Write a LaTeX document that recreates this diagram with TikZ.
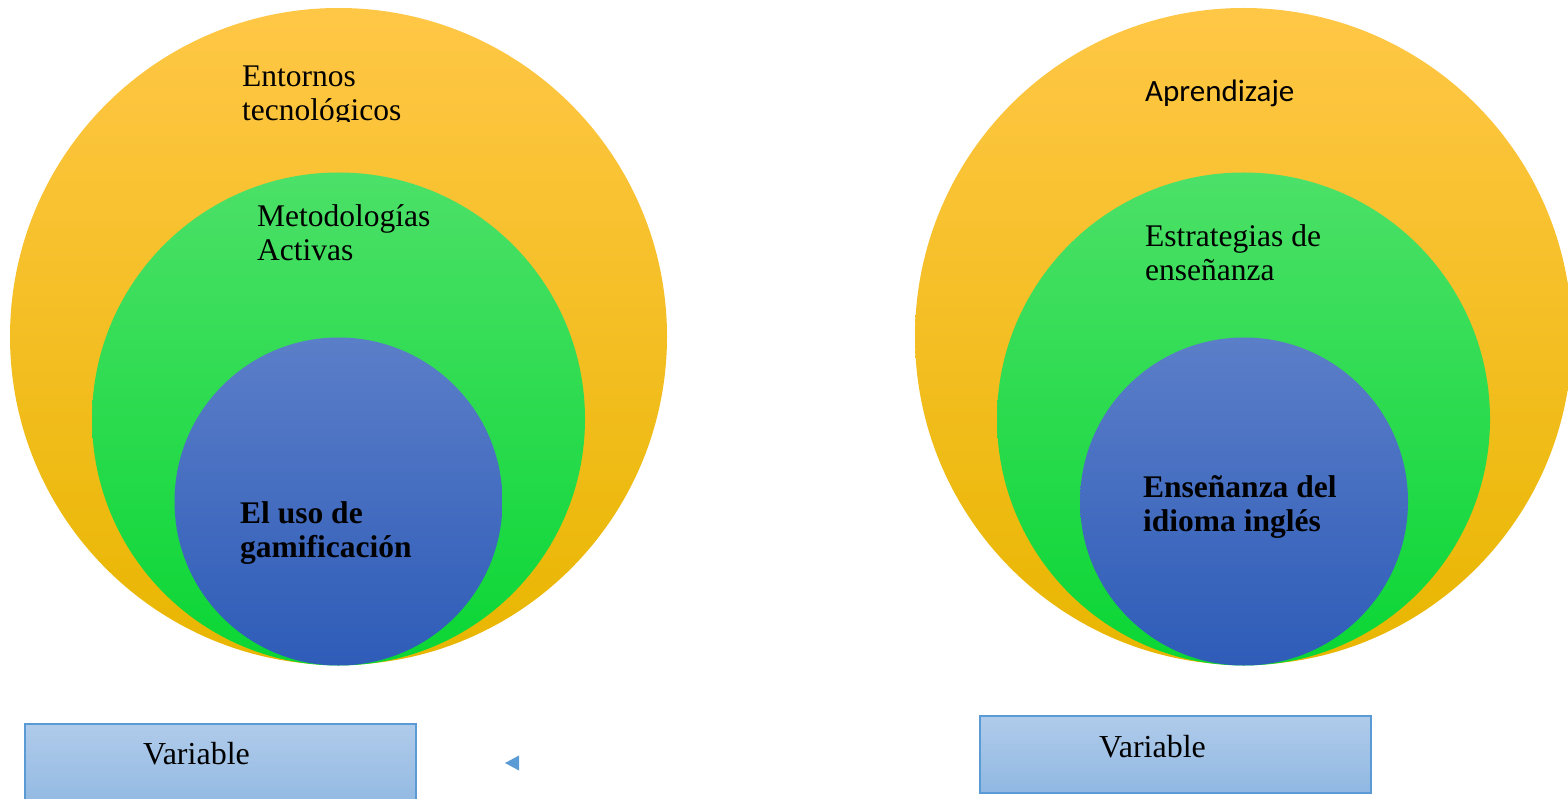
\documentclass[tikz,border=0pt]{standalone}
\usepackage{fontspec}
\setmainfont{Liberation Serif}
\newfontfamily\calibri{Carlito}
\definecolor{ytop}{RGB}{255,199,70}
\definecolor{ymid}{RGB}{255,192,0}
\definecolor{ybot}{RGB}{232,182,0}
\definecolor{gtop}{RGB}{76,224,104}
\definecolor{gmid}{RGB}{24,232,64}
\definecolor{gbot}{RGB}{10,214,52}
\definecolor{btop}{RGB}{91,126,200}
\definecolor{bmid}{RGB}{60,108,198}
\definecolor{bbot}{RGB}{46,92,184}
\definecolor{boxtop}{RGB}{176,203,234}
\definecolor{boxbot}{RGB}{144,184,226}
\definecolor{boxline}{RGB}{91,155,213}
\tikzset{
  outerc/.style={top color=ytop, middle color=ymid, bottom color=ybot},
  midc/.style={top color=gtop, middle color=gmid, bottom color=gbot},
  innerc/.style={top color=btop, middle color=bmid, bottom color=bbot},
  varbox/.style={top color=boxtop, bottom color=boxbot, draw=boxline, line width=1.5pt},
  lbl/.style={anchor=base west, inner sep=0pt, align=left, font=\fontsize{31.5}{34}\selectfont},
  blbl/.style={lbl, font=\fontsize{31.5}{34}\selectfont\bfseries},
  vlbl/.style={anchor=base west, inner sep=0pt, font=\fontsize{32}{36}\selectfont}
}
\begin{document}
\begin{tikzpicture}[x=1pt,y=-1pt]
\useasboundingbox (0,0) rectangle (1568,799);
\clip (0,0) rectangle (1568,799);
% left circles
\shade[outerc] (338.5,336.5) circle[radius=328.5pt];
\shade[midc] (338.5,419) circle[radius=246.5pt];
\shade[innerc] (338.5,501.5) circle[radius=164pt];
% right circles
\shade[outerc] (1243.5,336.5) circle[radius=328.5pt];
\shade[midc] (1243.5,419) circle[radius=246.5pt];
\shade[innerc] (1244,501.5) circle[radius=164pt];
% left labels (anchor = baseline of the last line)
\begin{scope}
\clip (220,40) rectangle (440,122);
\node[lbl] (entornos) at (242,120.5) {Entornos\\tecnológicos};
\end{scope}
\node[lbl] (metod) at (257,261) {Metodologías\\Activas};
\node[blbl] (gamif) at (240,557) {El uso de\\gamificación};
% right labels
\node[anchor=base west, inner sep=0pt, font=\calibri\fontsize{31}{34}\selectfont] (aprend) at (1145,102) {Aprendizaje};
\node[lbl] (estrat) at (1145,281) {Estrategias de\\enseñanza};
\node[blbl] (ensen) at (1143,531) {Enseñanza del\\idioma inglés};
% boxes
\draw[varbox] (25,724) rectangle (416,810);
\node[vlbl] (varl) at (143,764) {Variable};
\draw[varbox] (980,716) rectangle (1371,793);
\node[vlbl] (varr) at (1099,757) {Variable};
% small triangle
\fill[boxline] (505,763) -- (519,755.5) -- (519,770.5) -- cycle;
\end{tikzpicture}
\end{document}
